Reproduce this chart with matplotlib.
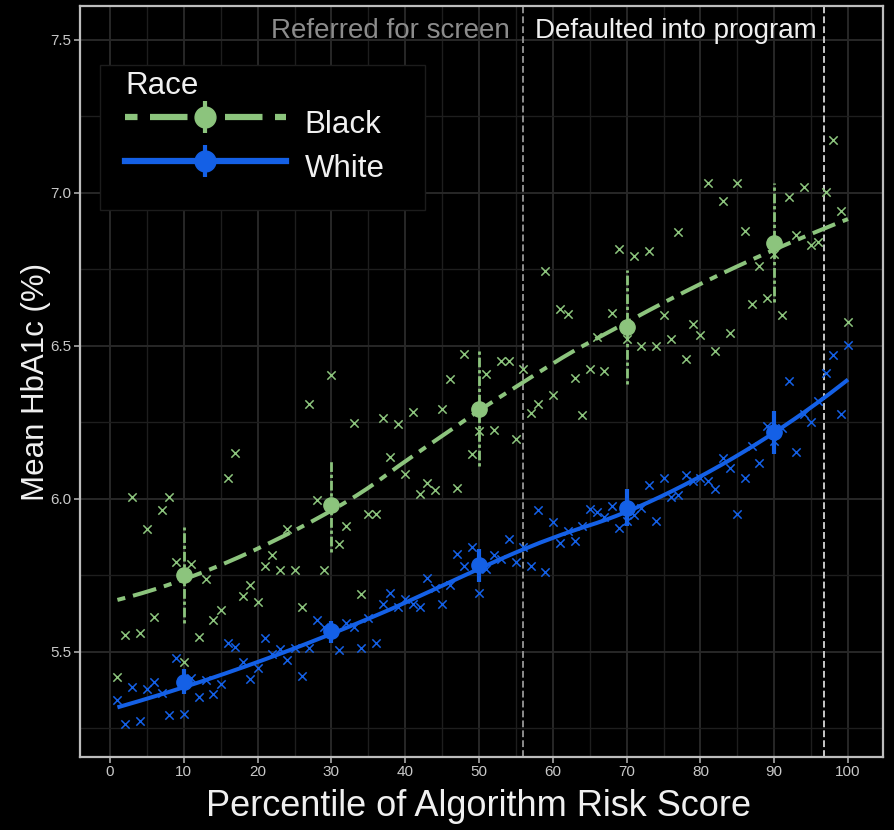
import numpy as np
import matplotlib
matplotlib.use("Agg")
import matplotlib.pyplot as plt
from matplotlib.lines import Line2D
from matplotlib.patches import Rectangle
from matplotlib.legend_handler import HandlerTuple

plt.rcParams['font.family'] = ['Liberation Sans', 'DejaVu Sans']

# ---------------- data ----------------
percentile = np.arange(1, 101)

black_hba1c = [
    5.417, 5.555, 6.004, 5.562, 5.899, 5.614, 5.964, 6.004, 5.794, 5.467,
    5.787, 5.548, 5.738, 5.604, 5.637, 6.069, 6.148, 5.683, 5.719, 5.663,
    5.778, 5.814, 5.768, 5.899, 5.765, 5.647, 6.308, 5.994, 5.768, 6.403,
    5.853, 5.909, 6.246, 5.689, 5.951, 5.951, 6.265, 6.136, 6.243, 6.079,
    6.283, 6.016, 6.050, 6.029, 6.294, 6.391, 6.034, 6.472, 6.147, 6.221,
    6.406, 6.226, 6.450, 6.450, 6.196, 6.423, 6.280, 6.310, 6.744, 6.338,
    6.621, 6.603, 6.395, 6.275, 6.425, 6.528, 6.417, 6.607, 6.816, 6.523,
    6.793, 6.498, 6.810, 6.498, 6.600, 6.521, 6.872, 6.458, 6.572, 6.534,
    7.033, 6.482, 6.973, 6.542, 7.033, 6.876, 6.638, 6.760, 6.657, 6.800,
    6.600, 6.985, 6.862, 7.020, 6.831, 6.840, 7.003, 7.173, 6.941, 6.578,
]

white_hba1c = [
    5.342, 5.264, 5.385, 5.273, 5.378, 5.401, 5.365, 5.293, 5.480, 5.296,
    5.414, 5.352, 5.408, 5.362, 5.395, 5.529, 5.516, 5.467, 5.411, 5.447,
    5.545, 5.493, 5.509, 5.473, 5.513, 5.421, 5.513, 5.604, 5.580, 5.560,
    5.505, 5.592, 5.579, 5.513, 5.610, 5.527, 5.655, 5.692, 5.647, 5.672,
    5.655, 5.647, 5.739, 5.708, 5.655, 5.718, 5.819, 5.781, 5.841, 5.692,
    5.771, 5.814, 5.803, 5.868, 5.792, 5.843, 5.778, 5.963, 5.761, 5.925,
    5.854, 5.893, 5.860, 5.910, 5.967, 5.956, 5.939, 5.977, 5.903, 5.928,
    5.945, 5.970, 6.043, 5.926, 6.067, 6.005, 6.013, 6.076, 6.059, 6.067,
    6.056, 6.032, 6.134, 6.101, 5.951, 6.068, 6.171, 6.116, 6.239, 6.190,
    6.232, 6.384, 6.152, 6.278, 6.250, 6.319, 6.410, 6.469, 6.278, 6.504,
]

decile_x = [10, 30, 50, 70, 90]
black_mean = [5.751, 5.980, 6.294, 6.561, 6.836]
black_lo = [5.592, 5.825, 6.106, 6.376, 6.643]
black_hi = [5.906, 6.127, 6.482, 6.747, 7.033]
white_mean = [5.401, 5.566, 5.783, 5.970, 6.217]
white_lo = [5.361, 5.527, 5.726, 5.910, 6.147]
white_hi = [5.443, 5.601, 5.836, 6.030, 6.288]

thresholds = [55.9, 96.8]
threshold_labels = ["Referred for screen", "Defaulted into program"]

x_ticks = list(range(0, 101, 10))
y_ticks = [5.5, 6.0, 6.5, 7.0, 7.5]
race_labels = ["Black", "White"]


def loess(x, y, xs, span=0.75):
    """Local quadratic regression with tricube weights (like geom_smooth)."""
    x = np.asarray(x, float)
    y = np.asarray(y, float)
    q = int(np.floor(span * len(x)))
    out = []
    for x0 in xs:
        d = np.abs(x - x0)
        h = np.sort(d)[q - 1]
        w = np.clip(1 - (d / h) ** 3, 0, None) ** 3
        A = np.vstack([np.ones_like(x), x - x0, (x - x0) ** 2]).T
        W = np.sqrt(w)
        coef, *_ = np.linalg.lstsq(A * W[:, None], y * W, rcond=None)
        out.append(coef[0])
    return np.array(out)


# ---------------- style ----------------
GREEN = '#8cc47d'
BLUE = '#1460e6'
BG = 'black'

fig = plt.figure(figsize=(8.94, 8.30), dpi=100, facecolor=BG)
ax_l, ax_b, ax_r, ax_t = 80, 757, 882.7, 6   # axes box in pixels
ax = fig.add_axes([ax_l / 894, 1 - ax_b / 830, (ax_r - ax_l) / 894, (ax_b - ax_t) / 830])
ax.set_facecolor(BG)

ax.set_xlim(-4.07, 104.7)
ax.set_ylim(5.155, 7.611)

ax.set_xticks(x_ticks)
ax.set_xticks(np.arange(5, 100, 10), minor=True)
ax.set_yticks(y_ticks)
ax.set_yticks([5.25, 5.75, 6.25, 6.75, 7.25], minor=True)
ax.set_yticklabels([f"{v:.1f}" for v in y_ticks])

ax.grid(which='major', color='#282828', lw=1.4, zorder=0)
ax.grid(which='minor', color='#1e1e1e', lw=1.0, zorder=0)
ax.set_axisbelow(True)

ax.tick_params(which='major', colors='#aaaaaa', labelcolor='#c8c8c8',
               labelsize=11, length=4, width=1.2, pad=2)
ax.tick_params(which='minor', length=0)
for s in ax.spines.values():
    s.set_color('#bdbdbd')
    s.set_linewidth(1.6)


def px_to_axes(px, py):
    return (px - ax_l) / (ax_r - ax_l), (ax_b - py) / (ax_b - ax_t)


# legend background box (hides grid like the reference's legend panel)
bx0, by0 = px_to_axes(100, 210)
bx1, by1 = px_to_axes(425, 65)
ax.add_patch(Rectangle((bx0, by0), bx1 - bx0, by1 - by0, transform=ax.transAxes,
                       facecolor=BG, edgecolor='#1c1c1c', lw=1.0, zorder=0.8))

# scatter of per-percentile means
ax.scatter(percentile, black_hba1c, marker='x', s=36, linewidths=1.1,
           color=GREEN, zorder=2)
ax.scatter(percentile, white_hba1c, marker='x', s=36, linewidths=1.1,
           color=BLUE, zorder=2)

# smooth fits
xs = np.linspace(1, 100, 300)
ln_b, = ax.plot(xs, loess(percentile, black_hba1c, xs), color=GREEN, lw=2.9,
                zorder=3)
ln_b.set_dashes((2, 2, 6, 2))
ax.plot(xs, loess(percentile, white_hba1c, xs), color=BLUE, lw=2.9, zorder=3,
        solid_capstyle='butt')

# threshold lines
ax.axvline(thresholds[0], color='#8c8c8c', lw=1.4, dashes=(3.5, 1.6), zorder=1)
ax.axvline(thresholds[1], color='#c8c8c8', lw=1.4, dashes=(3.5, 1.6), zorder=1)
ax.text(thresholds[0] - 1.7, 7.505, threshold_labels[0], ha='right',
        va='baseline', color='#8c8c8c', fontsize=20)
ax.text(thresholds[0] + 1.7, 7.505, threshold_labels[1], ha='left',
        va='baseline', color='#f0f0f0', fontsize=20)

# error bars and decile means
eb = ax.vlines(decile_x, black_lo, black_hi, color=GREEN, lw=2.0, zorder=4)
eb.set_linestyle((0, (1.2, 1.0, 3.5, 1.0)))
ax.vlines(decile_x, white_lo, white_hi, color=BLUE, lw=3.0, zorder=4)
ax.plot(decile_x, black_mean, 'o', color=GREEN, ms=11, zorder=5)
ax.plot(decile_x, white_mean, 'o', color=BLUE, ms=11, zorder=5)

# labels
ax.set_xlabel('Percentile of Algorithm Risk Score', fontsize=26, color='#f0f0f0')
ax.xaxis.set_label_coords(0.4965, -0.043)
ax.set_ylabel('Mean HbA1c (%)', fontsize=22.5, color='#f0f0f0')
ax.yaxis.set_label_coords(-0.036, 0.5)

# legend
lb_line = Line2D([], [], color=GREEN, lw=4.5, dashes=(2, 2, 6, 2))
lb_bar = Line2D([], [], color=GREEN, marker='|', ms=23, mew=3, ls='none')
lb_dot = Line2D([], [], color=GREEN, marker='o', ms=15, ls='none')
lw_line = Line2D([], [], color=BLUE, lw=4.5)
lw_bar = Line2D([], [], color=BLUE, marker='|', ms=23, mew=3, ls='none')
lw_dot = Line2D([], [], color=BLUE, marker='o', ms=15, ls='none')
lgx, lgy = px_to_axes(120, 66)
leg = ax.legend([(lb_line, lb_bar, lb_dot), (lw_line, lw_bar, lw_dot)],
                race_labels, title='Race',
                handler_map={tuple: HandlerTuple(ndivide=1)},
                loc='upper left', bbox_to_anchor=(lgx, lgy),
                borderaxespad=0, fontsize=22.5, title_fontsize=22.5,
                handlelength=5.15, handleheight=1.8, handletextpad=0.6,
                labelspacing=0.0, borderpad=0.16, frameon=False,
                alignment='left')
for t in leg.get_texts():
    t.set_color('#f0f0f0')
leg.get_title().set_color('#f0f0f0')
leg.set_zorder(6)

fig.savefig('out.png', dpi=100, facecolor=BG)
